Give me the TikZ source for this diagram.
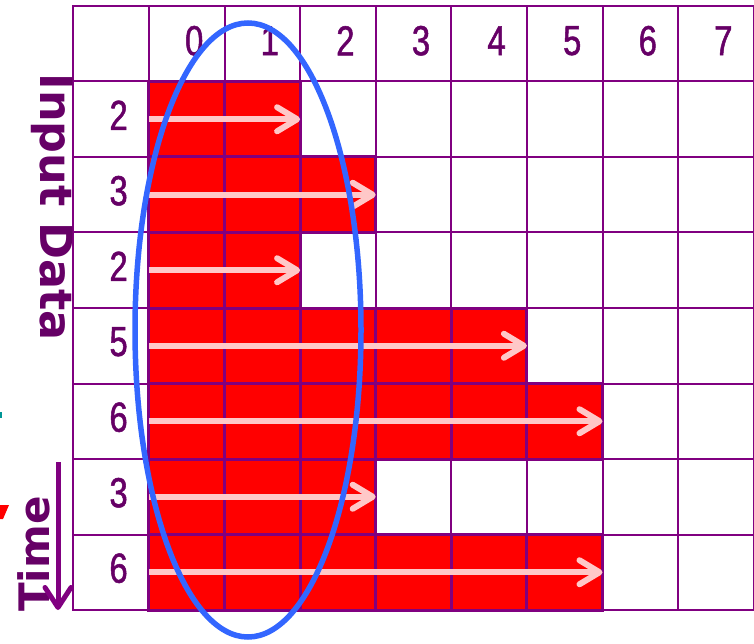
\documentclass[tikz,border=0pt]{standalone}
\usepackage{fontspec}
\setmainfont{Liberation Sans}
\newfontfamily\numfont[FakeStretch=0.78,FakeBold=1.2]{Liberation Sans}
\newfontfamily\labfont{DejaVu Sans}
\usepackage{xcolor}
\usetikzlibrary{arrows.meta,positioning,calc}

\definecolor{gridpurple}{RGB}{128,0,128}
\definecolor{txtpurple}{RGB}{102,0,102}
\definecolor{barred}{RGB}{255,0,0}
\definecolor{arrowpink}{RGB}{255,200,200}
\definecolor{ringblue}{RGB}{51,102,255}
\definecolor{tealbit}{RGB}{0,150,150}

\begin{document}
\begin{tikzpicture}[x=1pt,y=-1pt,
    cellline/.style={draw=gridpurple,line width=2pt},
    redcell/.style={fill=barred,draw=gridpurple,line width=3pt},
    numlabel/.style={text=txtpurple,inner sep=0pt,font=\numfont\fontsize{42}{42}\selectfont},
    sidelabel/.style={text=txtpurple,inner sep=0pt,font=\labfont\bfseries\fontsize{44.5}{44.5}\selectfont},
    flow/.style={draw=arrowpink,line width=6pt,-{Straight Barb[length=20pt,width=24pt,round]}}]
  \useasboundingbox (0,0) rectangle (754,644);

  % table cells
  \foreach \c in {0,...,8}
    \foreach \r in {0,...,7}
      \draw[cellline] (73.3+\c*75.6,6+\r*75.5) rectangle ++(75.6,75.5);

  % busy slots
  \foreach \len [count=\r] in {2,3,2,5,6,3,6} {
    \foreach \c in {1,...,\len}
      \filldraw[redcell] (73.3+\c*75.6,6+\r*75.5) rectangle ++(75.6,75.5);
  }

  % lengths and their arrows
  \foreach \len [count=\r] in {2,3,2,5,6,3,6} {
    \node[numlabel] (len\r) at (118.6,6+\r*75.5+33.75) {\len};
    \coordinate (start\r) at (149,6+\r*75.5+37.75);
    \coordinate (stop\r) at (148.9+\len*75.6,6+\r*75.5+37.75);
    \draw[flow] (start\r) -- (stop\r);
  }

  % time steps
  \foreach \c in {0,...,7}
    \node[numlabel] (col\c) at (194.2+\c*75.6,40.75) {\c};

  % window
  \draw[ringblue,line width=5.5pt] (248,330) ellipse [x radius=113pt,y radius=307pt];

  \node[sidelabel,rotate=-90,anchor=north] (inputlab) at (73,207) {Input Data};
  \node[sidelabel,font=\labfont\bfseries\fontsize{42}{42}\selectfont,rotate=90,anchor=south]
    (timelab) at (50,554) {Time};

  \coordinate (timetop) at (58,462);
  \coordinate (timebot) at (58,610);
  \draw[draw=gridpurple,line width=5pt,-{Straight Barb[length=20pt,width=26pt,round]}]
    (timetop) -- (timebot);

  % cut-off bits at the edge
  \fill[barred] (0,505) -- (9,505) -- (3,519) -- (0,519) -- cycle;
  \fill[tealbit] (0,412) rectangle (2,418);
\end{tikzpicture}
\end{document}
